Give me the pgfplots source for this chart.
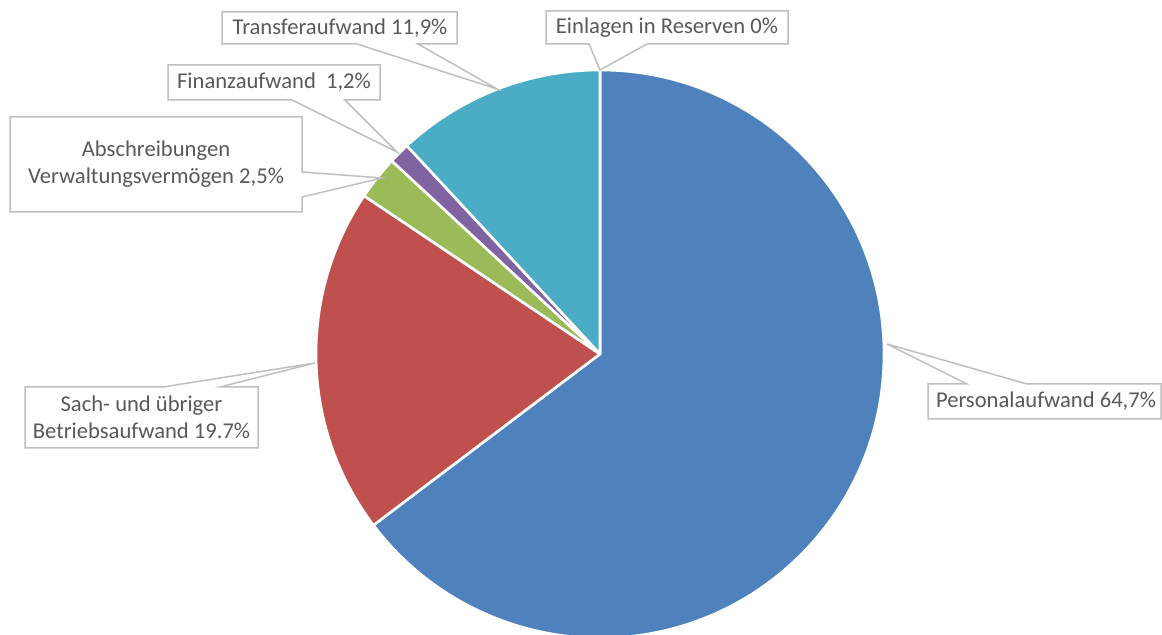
\documentclass[border=0pt]{standalone}
\usepackage{pgfplots}
\pgfplotsset{compat=1.18}
\usepackage{fontspec}
\setmainfont{Carlito}
\definecolor{cblue}{HTML}{4F81BD}
\definecolor{cred}{HTML}{C0504D}
\definecolor{cgreen}{HTML}{9BBB59}
\definecolor{cpurple}{HTML}{8064A2}
\definecolor{cteal}{HTML}{4BACC6}
\definecolor{cborder}{HTML}{BFBFBF}
\definecolor{ctext}{HTML}{595959}
\begin{document}
\fontsize{11.3}{13.4}\selectfont
\begin{tikzpicture}
\begin{axis}[
  width=581pt, height=317.5pt, scale only axis,
  xmin=0, xmax=1162, ymin=0, ymax=635,
  hide axis,
]
\coordinate (bl) at (axis cs:0,0);
\coordinate (tr) at (axis cs:1162,635);
% pie slices: values in percent, clockwise from 12 o'clock
\xdef\curang{90}
\foreach \v/\c in {64.7/cblue,19.7/cred,2.5/cgreen,1.2/cpurple,11.9/cteal}{
  \pgfmathsetmacro\endang{\curang-3.6*\v}
  \edef\tmp{\noexpand\fill[\c, draw=white, line width=1.3pt, line join=round]
    (axis cs:600,281) -- ++(\curang:142pt) arc[start angle=\curang, end angle=\endang, radius=142pt] -- cycle;}
  \tmp
  \xdef\curang{\endang}
}
% callouts
\tikzset{callout/.style={fill=white, draw=cborder, line width=0.75pt, line join=miter}}
\filldraw[callout] (axis cs:222,623) -- (axis cs:457,623) -- (axis cs:457,591) -- (axis cs:418,591) -- (axis cs:497,546) -- (axis cs:357,591) -- (axis cs:222,591) -- cycle;
\filldraw[callout] (axis cs:546,624) -- (axis cs:788,624) -- (axis cs:788,591) -- (axis cs:647,591) -- (axis cs:600,565) -- (axis cs:589,591) -- (axis cs:546,591) -- cycle;
\filldraw[callout] (axis cs:168,570) -- (axis cs:380,570) -- (axis cs:380,535) -- (axis cs:345,535) -- (axis cs:397,483) -- (axis cs:292,535) -- (axis cs:168,535) -- cycle;
\filldraw[callout] (axis cs:10,518) -- (axis cs:302,518) -- (axis cs:302,463) -- (axis cs:382,457) -- (axis cs:302,438) -- (axis cs:302,423) -- (axis cs:10,423) -- cycle;
\filldraw[callout] (axis cs:25,248) -- (axis cs:163,248) -- (axis cs:315,272) -- (axis cs:220,248) -- (axis cs:258,248) -- (axis cs:258,187) -- (axis cs:25,187) -- cycle;
\filldraw[callout] (axis cs:928,251) -- (axis cs:967,251) -- (axis cs:887,291) -- (axis cs:1027,251) -- (axis cs:1161,251) -- (axis cs:1161,216) -- (axis cs:928,216) -- cycle;
\tikzset{lbl/.style={text=ctext, inner sep=0pt, align=center, font=\fontsize{11.3}{13.4}\selectfont}}
\node[lbl] at (axis cs:340,607) {Transferaufwand 11,9\%};
\node[lbl] at (axis cs:667,607.5) {Einlagen in Reserven 0\%};
\node[lbl] at (axis cs:274,552.5) {Finanzaufwand\ \ 1,2\%};
\node[lbl] at (axis cs:156,470.5) {Abschreibungen\\Verwaltungsvermögen 2,5\%};
\node[lbl] at (axis cs:141.5,217.5) {Sach- und übriger\\Betriebsaufwand 19.7\%};
\node[lbl] at (axis cs:1046,233.5) {Personalaufwand 64,7\%};
\end{axis}
\pgfresetboundingbox
\useasboundingbox (bl) rectangle (tr);
\end{tikzpicture}
\end{document}
